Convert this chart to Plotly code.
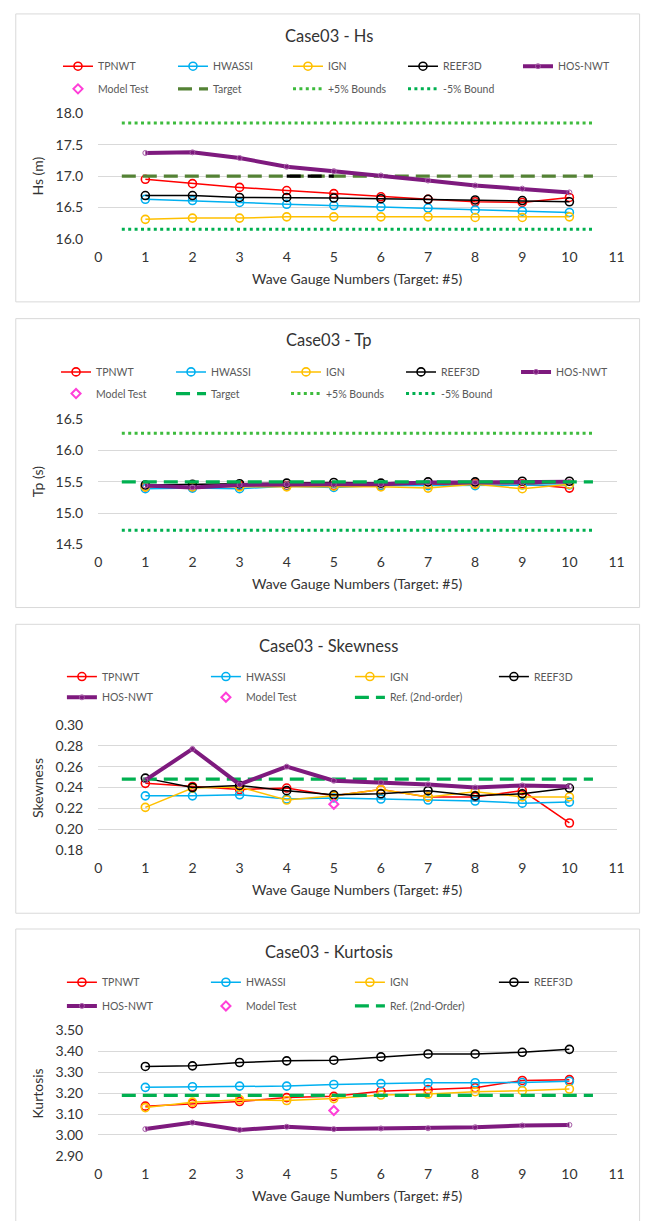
import plotly.graph_objects as go

W, H = 652, 1221

# ---------------------------------------------------------------- data
gauges = [1, 2, 3, 4, 5, 6, 7, 8, 9, 10]
x_ticks = [0, 1, 2, 3, 4, 5, 6, 7, 8, 9, 10, 11]
bound_span = [0.5, 10.5]
model_test_gauge = [5]

# Significant wave height Hs (m)
hs_tpnwt = [16.95, 16.88, 16.82, 16.77, 16.72, 16.67, 16.63, 16.59, 16.58, 16.66]
hs_hwassi = [16.63, 16.61, 16.58, 16.55, 16.53, 16.51, 16.49, 16.46, 16.44, 16.42]
hs_ign = [16.31, 16.33, 16.33, 16.35, 16.35, 16.35, 16.35, 16.34, 16.34, 16.35]
hs_reef3d = [16.69, 16.69, 16.66, 16.66, 16.65, 16.64, 16.63, 16.62, 16.61, 16.59]
hs_hosnwt = [17.37, 17.38, 17.29, 17.15, 17.08, 17.01, 16.93, 16.85, 16.80, 16.74]
hs_model_test = [None]
hs_target = 17.0
hs_upper = 17.85
hs_lower = 16.15
hs_marked_span = [4, 5]

# Peak period Tp (s)
tp_tpnwt = [15.42, 15.41, 15.44, 15.44, 15.44, 15.44, 15.45, 15.47, 15.47, 15.40]
tp_hwassi = [15.39, 15.40, 15.39, 15.43, 15.41, 15.44, 15.44, 15.44, 15.45, 15.45]
tp_ign = [15.42, 15.42, 15.42, 15.42, 15.43, 15.42, 15.40, 15.46, 15.39, 15.46]
tp_reef3d = [15.45, 15.46, 15.47, 15.48, 15.49, 15.48, 15.50, 15.50, 15.51, 15.51]
tp_hosnwt = [15.44, 15.41, 15.45, 15.46, 15.46, 15.46, 15.49, 15.49, 15.49, 15.50]
tp_model_test = [None]
tp_target = 15.5
tp_upper = 16.275
tp_lower = 14.725

# Skewness
sk_tpnwt = [0.244, 0.241, 0.238, 0.2395, 0.232, 0.238, 0.231, 0.231, 0.237, 0.206]
sk_hwassi = [0.232, 0.232, 0.233, 0.229, 0.230, 0.229, 0.228, 0.227, 0.225, 0.226]
sk_ign = [0.221, 0.2395, 0.2405, 0.228, 0.232, 0.238, 0.231, 0.236, 0.231, 0.231]
sk_reef3d = [0.249, 0.240, 0.242, 0.237, 0.233, 0.234, 0.237, 0.232, 0.234, 0.2395]
sk_hosnwt = [0.247, 0.277, 0.243, 0.260, 0.2465, 0.245, 0.243, 0.240, 0.242, 0.241]
sk_model_test = [0.224]
sk_ref = 0.248

# Kurtosis
ku_tpnwt = [3.138, 3.150, 3.160, 3.179, 3.185, 3.209, 3.217, 3.226, 3.261, 3.265]
ku_hwassi = [3.228, 3.231, 3.234, 3.234, 3.242, 3.246, 3.250, 3.250, 3.251, 3.257]
ku_ign = [3.131, 3.157, 3.169, 3.165, 3.174, 3.191, 3.196, 3.207, 3.212, 3.220]
ku_reef3d = [3.328, 3.331, 3.347, 3.355, 3.358, 3.374, 3.388, 3.388, 3.396, 3.410]
ku_hosnwt = [3.028, 3.059, 3.024, 3.039, 3.028, 3.031, 3.032, 3.037, 3.045, 3.048]
ku_model_test = [3.117]
ku_ref = 3.19

# ---------------------------------------------------------------- style
FONT = "Lato"
RED, BLUE, GOLD, BLACK = "#FF0000", "#00B0F0", "#FFC000", "#000000"
PURPLE, PURPLE_MK = "#7E1A7E", "#A55BA5"
PINK = "#FF3FD8"
OLIVE, GREEN, LIGHT_GREEN = "#548235", "#00B050", "#3DBB3D"
GRID = "#D9D9D9"
TXT = "#333333"
LEG_TXT = "#595959"


def px(v):
    return v / W


def py(v):
    return 1 - v / H


fig = go.Figure()


def series(name, xs, ys, color, n, leg, rank, thick=False):
    if thick:
        line = dict(color=color, width=4)
        marker = dict(symbol="circle-open", size=5, color=PURPLE_MK, line=dict(width=1))
    else:
        line = dict(color=color, width=1.5)
        marker = dict(symbol="circle-open", size=8, color=color, line=dict(width=1.6))
    fig.add_trace(go.Scatter(
        x=xs, y=ys, name=name, mode="lines+markers", line=line, marker=marker,
        xaxis=f"x{n}", yaxis=f"y{n}", legend=leg, legendrank=rank))


def flat(name, span, value, color, dash, width, n, leg, rank, show=True):
    fig.add_trace(go.Scatter(
        x=span, y=[value] * len(span), name=name, mode="lines",
        line=dict(color=color, width=width, dash=dash),
        xaxis=f"x{n}", yaxis=f"y{n}", legend=leg, legendrank=rank, showlegend=show))


def model_test(xs, ys, n, leg, rank):
    fig.add_trace(go.Scatter(
        x=xs, y=ys, name="Model Test", mode="markers",
        marker=dict(symbol="diamond-open", size=7, color=PINK, line=dict(width=2)),
        xaxis=f"x{n}", yaxis=f"y{n}", legend=leg, legendrank=rank))


DASH = "14px,7px"
DOT = "3px,3.4px"

# Panel 1: Hs
series("TPNWT", gauges, hs_tpnwt, RED, 1, "legend", 1)
series("HWASSI", gauges, hs_hwassi, BLUE, 1, "legend", 2)
series("IGN", gauges, hs_ign, GOLD, 1, "legend", 3)
series("REEF3D", gauges, hs_reef3d, BLACK, 1, "legend", 4)
flat("Target", bound_span, hs_target, OLIVE, DASH, 3.2, 1, "legend2", 7)
flat("", hs_marked_span, hs_target, BLACK, DASH, 3.2, 1, "legend2", 20, show=False)
series("HOS-NWT", gauges, hs_hosnwt, PURPLE, 1, "legend", 5, thick=True)
model_test(model_test_gauge, hs_model_test, 1, "legend2", 6)
flat("+5% Bounds", bound_span, hs_upper, LIGHT_GREEN, DOT, 3, 1, "legend2", 8)
flat("-5% Bound", bound_span, hs_lower, GREEN, DOT, 3, 1, "legend2", 9)

# Panel 2: Tp
series("TPNWT", gauges, tp_tpnwt, RED, 2, "legend3", 1)
series("HWASSI", gauges, tp_hwassi, BLUE, 2, "legend3", 2)
series("IGN", gauges, tp_ign, GOLD, 2, "legend3", 3)
series("REEF3D", gauges, tp_reef3d, BLACK, 2, "legend3", 4)
series("HOS-NWT", gauges, tp_hosnwt, PURPLE, 2, "legend3", 5, thick=True)
model_test(model_test_gauge, tp_model_test, 2, "legend4", 6)
flat("Target", bound_span, tp_target, GREEN, DASH, 3.2, 2, "legend4", 7)
flat("+5% Bounds", bound_span, tp_upper, LIGHT_GREEN, DOT, 3, 2, "legend4", 8)
flat("-5% Bound", bound_span, tp_lower, GREEN, DOT, 3, 2, "legend4", 9)

# Panel 3: Skewness
series("TPNWT", gauges, sk_tpnwt, RED, 3, "legend5", 1)
series("HWASSI", gauges, sk_hwassi, BLUE, 3, "legend5", 2)
series("IGN", gauges, sk_ign, GOLD, 3, "legend5", 3)
series("REEF3D", gauges, sk_reef3d, BLACK, 3, "legend5", 4)
flat("Ref. (2nd-order)", bound_span, sk_ref, GREEN, DASH, 3.2, 3, "legend6", 7)
series("HOS-NWT", gauges, sk_hosnwt, PURPLE, 3, "legend6", 5, thick=True)
model_test(model_test_gauge, sk_model_test, 3, "legend6", 6)

# Panel 4: Kurtosis
series("TPNWT", gauges, ku_tpnwt, RED, 4, "legend7", 1)
series("HWASSI", gauges, ku_hwassi, BLUE, 4, "legend7", 2)
series("IGN", gauges, ku_ign, GOLD, 4, "legend7", 3)
series("REEF3D", gauges, ku_reef3d, BLACK, 4, "legend7", 4)
flat("Ref. (2nd-Order)", bound_span, ku_ref, GREEN, DASH, 3.2, 4, "legend8", 7)
series("HOS-NWT", gauges, ku_hosnwt, PURPLE, 4, "legend8", 5, thick=True)
model_test(model_test_gauge, ku_model_test, 4, "legend8", 6)

# ---------------------------------------------------------------- layout
# entry widths exclude the 45 px taken by each legend symbol and gaps
panels = [
    dict(box=(5, 297), plot=(106, 233), yr=[16, 18], dt=0.5, fmt=".1f",
         title="Case03 - Hs", ytitle="Hs (m)", ty=27, legs=(58, 81), entry=70, lx=55),
    dict(box=(314, 607), plot=(416, 543), yr=[14.5, 16.5], dt=0.5, fmt=".1f",
         title="Case03 - Tp", ytitle="Tp (s)", ty=336, legs=(368, 390), entry=70, lx=53),
    dict(box=(624, 917), plot=(726, 853), yr=[0.18, 0.30], dt=0.02, fmt=".2f",
         title="Case03 - Skewness", ytitle="Skewness", ty=646, legs=(677, 698), entry=99, lx=59),
    dict(box=(933, 1240), plot=(1036, 1163), yr=[2.90, 3.50], dt=0.1, fmt=".2f",
         title="Case03 - Kurtosis", ytitle="Kurtosis", ty=956, legs=(987, 1011), entry=99, lx=59),
]

X0, X1 = 96, 624
layout = dict(
    width=W, height=H, margin=dict(l=0, r=0, t=0, b=0),
    paper_bgcolor="white", plot_bgcolor="white",
    font=dict(family=FONT, color=TXT),
    showlegend=True, shapes=[], annotations=[],
)

for i, p in enumerate(panels, start=1):
    top, bot = p["plot"]
    layout[f"xaxis{i}"] = dict(
        domain=[px(X0), px(X1)], anchor=f"y{i}", range=[0, 11],
        tickmode="array", tickvals=x_ticks, showgrid=False, zeroline=False,
        showline=False, ticks="", ticklabelstandoff=8,
        tickfont=dict(size=14, color=TXT, family=FONT), fixedrange=True)
    layout[f"yaxis{i}"] = dict(
        domain=[py(bot), py(top)], anchor=f"x{i}", range=p["yr"],
        dtick=p["dt"], tick0=p["yr"][0], tickformat=p["fmt"],
        showgrid=True, gridcolor=GRID, gridwidth=1, zeroline=False,
        showline=False, ticks="", ticklabelstandoff=14,
        tickfont=dict(size=14, color=TXT, family=FONT), fixedrange=True)
    b0, b1 = p["box"]
    layout["shapes"].append(dict(
        type="rect", xref="paper", yref="paper",
        x0=px(12), x1=px(647.5), y0=py(b1), y1=py(b0),
        line=dict(color=GRID, width=1), fillcolor="rgba(0,0,0,0)", layer="below"))
    layout["annotations"] += [
        dict(text=p["title"], xref="paper", yref="paper", x=px(331), y=py(p["ty"]),
             xanchor="center", yanchor="middle", showarrow=False,
             font=dict(size=16.5, color=TXT, family=FONT)),
        dict(text="Wave Gauge Numbers (Target: #5)", xref="paper", yref="paper",
             x=px(360), y=py(bot + 40), xanchor="center", yanchor="middle",
             showarrow=False, font=dict(size=14, color=TXT, family=FONT)),
        dict(text=p["ytitle"], xref="paper", yref="paper", x=px(34),
             y=py((top + bot) / 2), xanchor="center", yanchor="middle",
             textangle=-90, showarrow=False, font=dict(size=14, color=TXT, family=FONT)),
    ]
    for r, ycen in enumerate(p["legs"]):
        key = "legend" if (i == 1 and r == 0) else f"legend{2 * (i - 1) + r + 1}"
        layout[key] = dict(
            orientation="h", x=px(p["lx"]), y=py(ycen), xanchor="left",
            yanchor="middle", entrywidth=p["entry"], entrywidthmode="pixels",
            bgcolor="rgba(0,0,0,0)", borderwidth=0, itemclick=False,
            font=dict(size=10.5, color=LEG_TXT, family=FONT), traceorder="normal")

fig.update_layout(**layout)
fig.write_html("out.html")
